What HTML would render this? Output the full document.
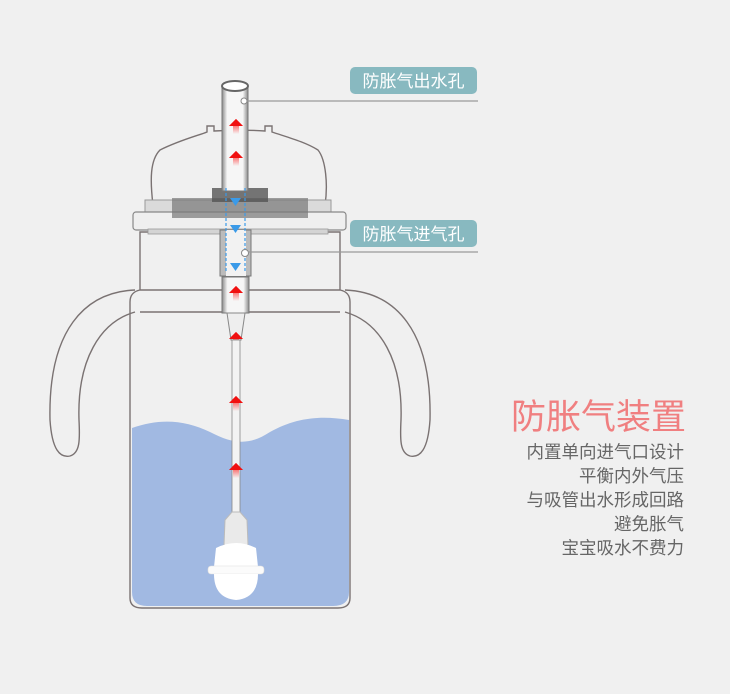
<!DOCTYPE html>
<html><head><meta charset="utf-8"><style>
html,body{margin:0;padding:0;background:#f0f0f0;}
svg{display:block;}
text{font-family:"Liberation Sans","Noto Sans CJK SC",sans-serif;}
</style></head><body>
<svg width="730" height="694" viewBox="0 0 730 694" xmlns="http://www.w3.org/2000/svg">
<defs>
<linearGradient id="ar" x1="0" y1="0" x2="0" y2="1"><stop offset="0" stop-color="#ff1010"/><stop offset="1" stop-color="#ff1010" stop-opacity="0"/></linearGradient>
<linearGradient id="tube" x1="0" y1="0" x2="1" y2="0"><stop offset="0" stop-color="#8a8a8a"/><stop offset="0.2" stop-color="#f6f6f6"/><stop offset="0.8" stop-color="#f6f6f6"/><stop offset="1" stop-color="#8a8a8a"/></linearGradient>
<g id="arrow"><polygon points="0,-7 7,0 3,0 3,8 -3,8 -3,0 -7,0" fill="url(#ar)"/><polygon points="0,-7 7,0 -7,0" fill="#f01010"/></g>
</defs>
<rect width="730" height="694" fill="#f0f0f0"/>
<!-- water -->
<path d="M132,428 C160,418 185,420 210,432 C235,445 250,445 270,432 C295,418 320,415 349,420 L349,592 Q349,606 333,606 L147,606 Q132,606 132,592 Z" fill="#a1b9e2"/>
<g fill="none" stroke="#7a7272" stroke-width="1.4">
<path d="M140,290 L140,232 L340,232 L340,290"/>
<path d="M140,290 Q130,292 130,302 L130,598 Q130,608 142,608 L338,608 Q350,608 350,598 L350,302 Q350,292 340,290 Z"/>
<line x1="140" y1="312" x2="340" y2="312"/>
<path d="M135,290 C85,292 48,330 50,420 C52,450 60,458 70,456 C80,453 80,440 79,420 C77,360 100,322 135,312"/>
<path d="M345,290 C395,292 432,330 430,420 C428,450 420,458 410,456 C400,453 400,440 401,420 C403,360 380,322 345,312"/>
<path d="M153,205 C150,180 150,160 160,150 C180,140 200,135 207,132 L207,126 L214,126 L214,131 C230,130 250,130 265,131 L265,126 L272,126 L272,132 C290,138 305,142 318,150 C326,160 328,185 325,205"/>
</g>
<rect x="145" y="200" width="186" height="12" fill="#dadada" stroke="#999" stroke-width="1"/>
<rect x="133" y="212" width="213" height="18" rx="3" fill="#efefef" stroke="#888" stroke-width="1.2"/>
<rect x="172" y="198" width="136" height="20" fill="#777" opacity="0.7"/>
<rect x="148" y="229" width="180" height="5" fill="#d4d4d4" stroke="#999" stroke-width="0.8"/>
<rect x="212" y="188" width="56" height="14" fill="#555" opacity="0.8"/>
<rect x="222" y="86" width="26" height="105" fill="url(#tube)" stroke="#777" stroke-width="1"/>
<ellipse cx="235" cy="86" rx="13" ry="5" fill="#fff" stroke="#666" stroke-width="2"/>
<circle cx="244" cy="101" r="3" fill="#fff" stroke="#888"/>
<use href="#arrow" x="236" y="126"/>
<use href="#arrow" x="236" y="158"/>
<rect x="220" y="230" width="31" height="46" fill="#bbb" stroke="#777"/>
<rect x="226" y="230" width="20" height="46" fill="#f2f2f2"/>
<g stroke="#3a9ae8" stroke-width="1.2" stroke-dasharray="3,2" fill="none"><line x1="226" y1="188" x2="226" y2="272"/><line x1="245" y1="188" x2="245" y2="272"/></g>
<g fill="#3a9ae8"><polygon points="230,198 241,198 235.5,206"/><polygon points="230,225 241,225 235.5,233"/><polygon points="230,263 241,263 235.5,271"/></g>
<circle cx="245" cy="253" r="3.5" fill="#fff" stroke="#888"/>
<rect x="222" y="277" width="27" height="36" fill="url(#tube)" stroke="#777"/>
<use href="#arrow" x="236" y="293"/>
<path d="M227,313 L245,313 L241,340 L231,340 Z" fill="#eee" stroke="#888"/>
<use href="#arrow" x="236" y="339"/>
<rect x="232" y="340" width="8" height="175" fill="#f3f3f3" stroke="#888" stroke-width="0.8"/>
<use href="#arrow" x="236" y="403"/>
<use href="#arrow" x="236" y="470"/>
<path d="M232,512 L240,512 L247,520 L248,545 L224,545 L225,520 Z" fill="#eaeaea" stroke="#bbb"/>
<path d="M216,548 Q236,538 256,548 L258,567 L214,567 Z" fill="#fff"/>
<rect x="208" y="566" width="56" height="8" rx="3" fill="#fbfbfb" stroke="#ddd" stroke-width="0.6"/>
<path d="M214,574 L258,574 Q258,598 236,600 Q214,598 214,574 Z" fill="#fff"/>
<line x1="247" y1="101" x2="478" y2="101" stroke="#999" stroke-width="1.2"/>
<line x1="248" y1="252" x2="478" y2="252" stroke="#999" stroke-width="1.2"/>
<rect x="350" y="67" width="127" height="27" rx="5" fill="#88b9c0"/>
<text x="413.5" y="87" font-size="17" fill="#fff" text-anchor="middle">防胀气出水孔</text>
<rect x="350" y="220" width="127" height="27" rx="5" fill="#88b9c0"/>
<text x="413.5" y="240" font-size="17" fill="#fff" text-anchor="middle">防胀气进气孔</text>
<text x="686" y="429" font-size="35" fill="#f07f80" text-anchor="end">防胀气装置</text>
<g font-size="17.5" fill="#666" text-anchor="end">
<text x="684" y="458">内置单向进气口设计</text>
<text x="684" y="482">平衡内外气压</text>
<text x="684" y="506">与吸管出水形成回路</text>
<text x="684" y="530">避免胀气</text>
<text x="684" y="554">宝宝吸水不费力</text>
</g>
</svg>
</body></html>
